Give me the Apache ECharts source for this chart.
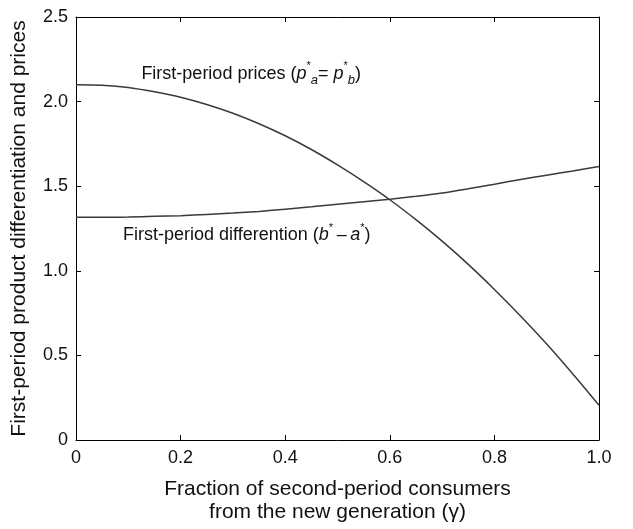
<!DOCTYPE html>
<html><head><meta charset="utf-8">
<script src="https://cdn.jsdelivr.net/npm/echarts@6/dist/echarts.min.js"></script>
<style>html,body{margin:0;padding:0;background:#fff}#c{width:633px;height:529px}</style>
</head><body><div id="c"></div>
<script>
var gamma = [0,0.05,0.1,0.15,0.2,0.25,0.3,0.35,0.4,0.45,0.5,0.55,0.6,0.65,0.7,0.75,0.8,0.85,0.9,0.95,1.0];
var prices = [2.10,2.097,2.084,2.058,2.026,1.983,1.931,1.869,1.798,1.717,1.626,1.527,1.42,1.302,1.175,1.038,0.89,0.733,0.567,0.39,0.205];
var differentiation = [1.316,1.316,1.318,1.322,1.326,1.333,1.341,1.351,1.364,1.378,1.393,1.408,1.423,1.44,1.46,1.485,1.512,1.54,1.565,1.59,1.616];
var xTicks = ['0','0.2','0.4','0.6','0.8','1.0'];
var yTicks = ['0','0.5','1.0','1.5','2.0','2.5'];

function pairs(xs, ys){ return xs.map(function(x,i){ return [x, ys[i]]; }); }
var FONT = 'Liberation Sans, Arial, Helvetica, sans-serif';
var C = '#111';
var rich = {
  t:{fontSize:18, fontFamily:FONT, color:C, lineHeight:26, verticalAlign:'middle'},
  i:{fontSize:18, fontFamily:FONT, color:C, fontStyle:'italic', lineHeight:26, verticalAlign:'middle'},
  sup:{fontSize:11, fontFamily:FONT, color:C, verticalAlign:'top', lineHeight:14},
  sub:{fontSize:13, fontFamily:FONT, color:C, fontStyle:'italic', verticalAlign:'bottom', lineHeight:12}
};
var chart = echarts.init(document.getElementById('c'));
function axisCommon(){
  return {
    axisLine:{show:true, onZero:false, lineStyle:{color:'#000', width:1}},
    axisTick:{show:true, inside:true, length:5, lineStyle:{color:'#000'}},
    splitLine:{show:false}
  };
}
chart.setOption({
  animation:false,
  grid:{left:76, right:34, top:17, bottom:84, containLabel:false},
  xAxis:[
    Object.assign({type:'value', min:0, max:1, interval:0.2, position:'bottom',
      axisLabel:{fontSize:18, fontFamily:FONT, color:C, margin:9,
        formatter:function(v){ return xTicks[Math.round(v/0.2)]; }},
      name:'Fraction of second-period consumers\nfrom the new generation (\u03b3)',
      nameLocation:'middle', nameGap:38,
      nameTextStyle:{fontSize:21, fontFamily:FONT, color:C, lineHeight:23, verticalAlign:'top'}
    }, axisCommon()),
    Object.assign({type:'value', min:0, max:1, interval:0.2, position:'top', axisLabel:{show:false}}, axisCommon())
  ],
  yAxis:[
    Object.assign({type:'value', min:0, max:2.5, interval:0.5, position:'left',
      axisLabel:{fontSize:18, fontFamily:FONT, color:C, margin:8,
        formatter:function(v){ return yTicks[Math.round(v/0.5)]; }},
      name:'First-period product differentiation and prices',
      nameLocation:'middle', nameGap:46,
      nameTextStyle:{fontSize:21, fontFamily:FONT, color:C}
    }, axisCommon()),
    Object.assign({type:'value', min:0, max:2.5, interval:0.5, position:'right', axisLabel:{show:false}}, axisCommon())
  ],
  series:[
    {type:'line', data:pairs(gamma, prices), smooth:0.3, symbol:'none',
      lineStyle:{color:'#3a3a3a', width:1.5},
      markPoint:{symbol:'circle', symbolSize:0, silent:true,
        data:[{coord:[0.125,2.165], label:{show:true, position:'right', distance:0,
          formatter:'{t|First-period prices (}{i|p}{sup|*}{sub|a}{t|= }{i|p}{sup|*}{sub|b}{t|)}', rich:rich}}]}
    },
    {type:'line', data:pairs(gamma, differentiation), smooth:0.3, symbol:'none',
      lineStyle:{color:'#3a3a3a', width:1.5},
      markPoint:{symbol:'circle', symbolSize:0, silent:true,
        data:[{coord:[0.09,1.21], label:{show:true, position:'right', distance:0,
          formatter:'{t|First-period differention (}{i|b}{sup|*}{t|\u2009\u2013\u2009}{i|a}{sup|*}{t|)}', rich:rich}}]}
    }
  ]
});
</script></body></html>
